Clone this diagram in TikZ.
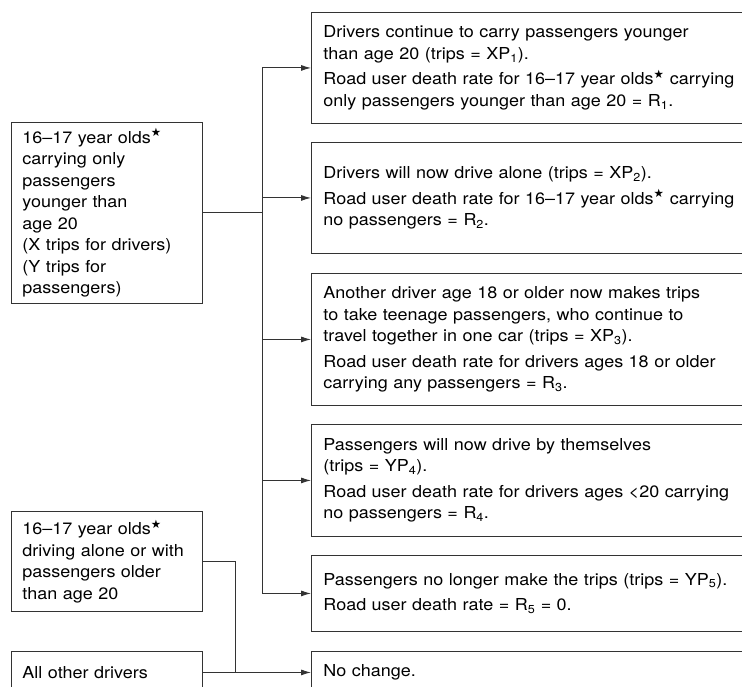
\documentclass[tikz,border=0pt]{standalone}
\usepackage{fontspec}
\setmainfont{TeX Gyre Heros}[FakeStretch=1.09]
\newfontfamily\symfont{DejaVu Sans}
\usetikzlibrary{arrows.meta}
\newcommand{\starmark}{\textsuperscript{\symfont ★}}
\tikzset{
  box/.style={draw=black!80, line width=0.9pt, anchor=north west, inner xsep=12pt, inner ysep=0pt,
    align=left, font=\fontsize{16.5}{21.5}\selectfont},
  leftbox/.style={box, inner xsep=11pt, text width=169pt},
  rightbox/.style={box, text width=440pt},
  link/.style={draw=black!80, line width=0.9pt},
  arr/.style={link, -{Latex[length=10pt,width=6pt]}}
}

\begin{document}
\begin{tikzpicture}[x=1pt,y=-1pt]
\useasboundingbox (0,0) rectangle (742,687);
\clip (0,0) rectangle (742,687);
% left column
\node[leftbox, minimum height=181pt] (young) at (11,122) {16--17 year olds\starmark\\ carrying only\\ passengers\\ younger than\\ age 20\\ (X trips for drivers)\\ (Y trips for\\ passengers)};
\node[leftbox, minimum height=100pt] (alone) at (11,511) {16--17 year olds\starmark\\ driving alone or with\\ passengers older\\ than age 20};
\node[leftbox, minimum height=42pt] (other) at (11,651) {All other drivers};
% right column
\node[rightbox, minimum height=111pt] (r1) at (311,12) {Drivers continue to carry passengers younger\\ than age 20 (trips = XP\textsubscript{1}).\\[4pt] Road user death rate for 16--17 year olds\starmark\ carrying\\ only passengers younger than age 20 = R\textsubscript{1}.};
\node[rightbox, minimum height=111pt] (r2) at (311,142) {Drivers will now drive alone (trips = XP\textsubscript{2}).\\[4pt] Road user death rate for 16--17 year olds\starmark\ carrying\\ no passengers = R\textsubscript{2}.};
\node[rightbox, minimum height=132pt] (r3) at (311,273) {Another driver age 18 or older now makes trips\\ to take teenage passengers, who continue to\\ travel together in one car (trips = XP\textsubscript{3}).\\[4pt] Road user death rate for drivers ages 18 or older\\ carrying any passengers = R\textsubscript{3}.};
\node[rightbox, minimum height=112pt] (r4) at (311,424) {Passengers will now drive by themselves\\ (trips = YP\textsubscript{4}).\\[4pt] Road user death rate for drivers ages <20 carrying\\ no passengers = R\textsubscript{4}.};
\node[rightbox, minimum height=76pt] (r5) at (311,555) {Passengers no longer make the trips (trips = YP\textsubscript{5}).\\[4pt] Road user death rate = R\textsubscript{5} = 0.};
\node[rightbox, minimum height=42pt] (r6) at (311,651) {No change.};
% connectors
\coordinate (trunk) at (262,0);
\coordinate (join) at (235,0);
\draw[link] (young.east) -- (young.east -| trunk);
\draw[link] (r1.west -| trunk) -- (r5.west -| trunk);
\foreach \n in {1,...,5}
  \draw[arr] (r\n.west -| trunk) -- (r\n.west);
\draw[link] (alone.east) -| (join |- other.east);
\draw[arr] (other.east) -- (r6.west);
\end{tikzpicture}
\end{document}
